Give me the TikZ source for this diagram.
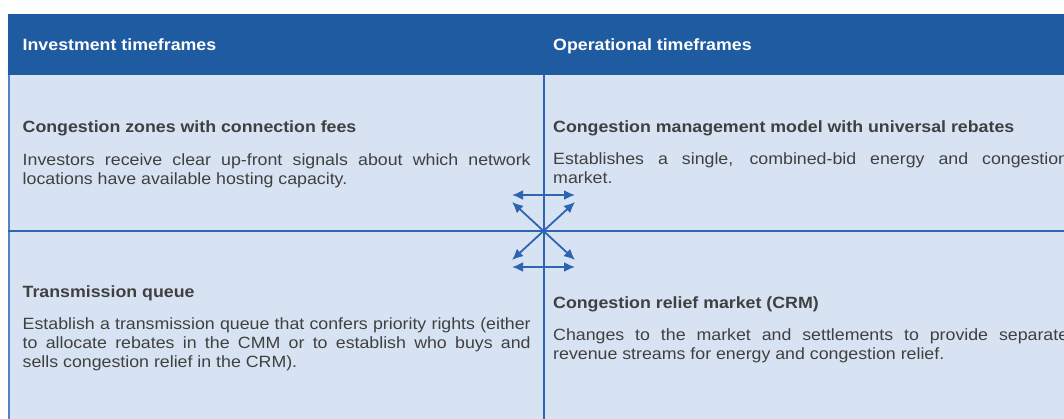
\documentclass[tikz,border=0pt]{standalone}
\usepackage{fontspec}
\setmainfont{Liberation Sans}[FakeStretch=1.09]
\usetikzlibrary{arrows.meta}

\definecolor{headblue}{RGB}{31,91,160}
\definecolor{panelblue}{RGB}{215,227,242}
\definecolor{ruleblue}{RGB}{46,101,178}
\definecolor{edgeblue}{RGB}{84,130,198}
\definecolor{txtgrey}{RGB}{64,64,64}

\tikzset{
  colhead/.style={anchor=base west, inner sep=0pt, text=white, font=\bfseries},
  boxhead/.style={anchor=base west, inner sep=0pt, text=txtgrey, font=\bfseries},
  boxtext/.style={anchor=base west, inner sep=0pt, text=txtgrey, align=justify},
  twoway/.style={{Latex[length=11pt,width=10pt]}-{Latex[length=11pt,width=10pt]}, draw=ruleblue, line width=1.8pt}
}

\begin{document}
\fontsize{16.3}{19}\selectfont
\begin{tikzpicture}[x=1pt,y=-1pt]
    \clip (0,0) rectangle (1064,419);
    % header band and panel
    \fill[headblue] (8,14) rectangle (1080,75);
    \fill[panelblue] (8,75) rectangle (1080,425);
    \draw[edgeblue,line width=2pt] (9,75) -- (9,425);
    \draw[ruleblue,line width=2pt] (8,230.8) -- (1080,230.8);
    \draw[ruleblue,line width=2pt] (543.5,75) -- (543.5,425);

    \node[colhead] (invhead) at (22.5,51) {Investment timeframes};
    \node[colhead] (ophead) at (553,51) {Operational timeframes};

    % investment side
    \node[boxhead] (zoneshead) at (22.5,132.7) {Congestion zones with connection fees};
    \node[boxtext,text width=508pt] (zonestext) at (22.5,165.3)
        {Investors receive clear up-front signals about which network\linebreak locations have available hosting capacity.};
    \node[boxhead] (queuehead) at (22.5,297.3) {Transmission queue};
    \node[boxtext,text width=508pt] (queuetext) at (22.5,329.3)
        {Establish a transmission queue that confers priority rights (either\linebreak to allocate rebates in the CMM or to establish who buys and\linebreak sells congestion relief in the CRM).};

    % operational side
    \node[boxhead] (cmmhead) at (553,132.7) {Congestion management model with universal rebates};
    \node[boxtext,text width=515pt] (cmmtext) at (553,165)
        {Establishes a single, combined-bid energy and congestion\linebreak market.};
    \node[boxhead] (crmhead) at (553,308.3) {Congestion relief market (CRM)};
    \node[boxtext,text width=515pt] (crmtext) at (553,340.5)
        {Changes to the market and settlements to provide separate\linebreak revenue streams for energy and congestion relief.};

    % arrows across the centre
    \coordinate (htl) at (512,195);
    \coordinate (htr) at (575,195);
    \coordinate (hbl) at (512,267);
    \coordinate (hbr) at (575,267);
    \coordinate (dtl) at (512,202);
    \coordinate (dtr) at (575,202);
    \coordinate (dbl) at (512,260);
    \coordinate (dbr) at (575,260);
    \draw[twoway] (htl) -- (htr);
    \draw[twoway] (hbl) -- (hbr);
    \draw[twoway] (dtl) -- (dbr);
    \draw[twoway] (dtr) -- (dbl);
\end{tikzpicture}
\end{document}
